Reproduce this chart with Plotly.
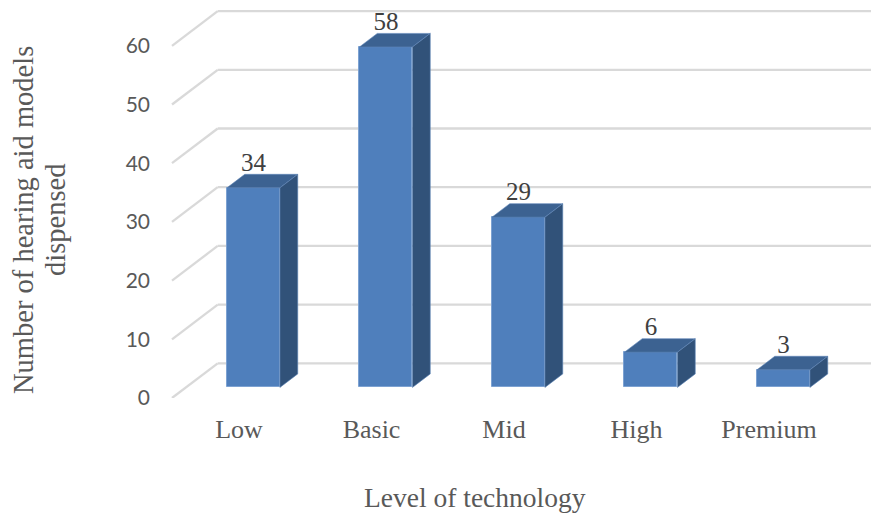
import plotly.graph_objects as go

categories = ["Low", "Basic", "Mid", "High", "Premium"]
values = [34, 58, 29, 6, 3]
y_ticks = [0, 10, 20, 30, 40, 50, 60]
y_title_lines = ["Number of hearing aid models", "dispensed"]

W, H = 871, 513
L, R, T, B = 160, 0, 0, 115
PX_PER_CAT = 132.5
PX_PER_VAL = 5.87
CAT0_PX = 239.0          # tick position of the first category on the front plane
WALL_DX = 45.7 / PX_PER_CAT
WALL_DY = 34.7 / PX_PER_VAL
FRONT_D = 0.305          # depth of bar front within the floor
BAR_D = 0.39             # depth of bar, as a share of the floor
BAR_W = 53 / PX_PER_CAT
LABEL_DROP = 3 / PX_PER_VAL
GRID_X0 = (172 - CAT0_PX) / PX_PER_CAT
x_range = [(L - CAT0_PX) / PX_PER_CAT, (W - R - CAT0_PX) / PX_PER_CAT]
y_range = [0, (H - B - T) / PX_PER_VAL]
SERIF = "Liberation Serif"

idx = list(range(len(categories)))
fx = FRONT_D * WALL_DX + 0.5 / PX_PER_CAT
fy = FRONT_D * WALL_DY
bx = BAR_D * WALL_DX
by = BAR_D * WALL_DY

top_x, top_y, side_x, side_y = [], [], [], []
for i, v in zip(idx, values):
    xl = i + fx - BAR_W / 2
    xr = i + fx + BAR_W / 2
    base, roof = fy, fy + v
    top_x += [xl, xr, xr + bx, xl + bx, xl, None]
    top_y += [roof, roof, roof + by, roof + by, roof, None]
    side_x += [xr, xr + bx, xr + bx, xr, xr, None]
    side_y += [base, base + by, roof + by, roof, base, None]

fig = go.Figure()
fig.add_trace(go.Bar(
    x=[i + fx for i in idx], y=values, base=[fy] * len(values), width=BAR_W,
    marker=dict(color="#4F7FBC", line=dict(color="#7DA2D2", width=1)),
    showlegend=False, hoverinfo="skip",
))
edge = dict(color="#5F86B8", width=0.6)
fig.add_trace(go.Scatter(x=top_x, y=top_y, mode="lines", fill="toself",
                         fillcolor="#3C6291", line=edge, showlegend=False, hoverinfo="skip"))
fig.add_trace(go.Scatter(x=side_x, y=side_y, mode="lines", fill="toself",
                         fillcolor="#315279", line=edge, showlegend=False, hoverinfo="skip"))
fig.add_trace(go.Scatter(
    x=[i + fx for i in idx], y=[fy + v + by - LABEL_DROP for v in values],
    mode="text", text=[str(v) for v in values], textposition="top center",
    textfont=dict(family=SERIF, size=25, color="#404040"),
    showlegend=False, hoverinfo="skip",
))

shapes = []
grid = dict(color="#D9D9D9", width=2.3)
for t in y_ticks:
    shapes.append(dict(type="line", layer="below", xref="x", yref="y",
                       x0=GRID_X0, y0=t, x1=GRID_X0 + WALL_DX, y1=t + WALL_DY, line=grid))
    shapes.append(dict(type="line", layer="below", xref="x", yref="y",
                       x0=GRID_X0 + WALL_DX, y0=t + WALL_DY, x1=x_range[1], y1=t + WALL_DY, line=grid))

title_font = dict(family=SERIF, size=28.5, color="#595959")
fig.update_layout(
    width=W, height=H, margin=dict(l=L, r=R, t=T, b=B),
    paper_bgcolor="white", plot_bgcolor="white", shapes=shapes, bargap=0,
    xaxis=dict(range=x_range, tickvals=idx, ticktext=categories, showgrid=False,
               zeroline=False, showline=False, ticks="", ticklabelstandoff=13,
               tickfont=dict(family=SERIF, size=26, color="#595959")),
    yaxis=dict(range=y_range, tickvals=y_ticks, showgrid=False, zeroline=False,
               showline=False, ticks="", ticklabelstandoff=9,
               tickfont=dict(family="Lato", size=21, color="#595959")),
    annotations=[
        dict(text="Level of technology", xref="paper", yref="paper",
             x=(475 - L) / (W - L - R), y=-(497 - (H - B)) / (H - B - T),
             xanchor="center", yanchor="middle", showarrow=False,
             font=dict(family=SERIF, size=27.5, color="#595959")),
        dict(text=y_title_lines[0], xref="paper", yref="paper",
             x=-(L - 24) / (W - L - R), y=((H - B) - 220) / (H - B - T),
             xanchor="center", yanchor="middle", textangle=-90, showarrow=False,
             font=title_font),
        dict(text=y_title_lines[1], xref="paper", yref="paper",
             x=-(L - 56) / (W - L - R), y=((H - B) - 220) / (H - B - T),
             xanchor="center", yanchor="middle", textangle=-90, showarrow=False,
             font=title_font),
    ],
)
fig.write_html("out.html", post_script="document.body.style.margin='0';",
               config=dict(displayModeBar=False))
